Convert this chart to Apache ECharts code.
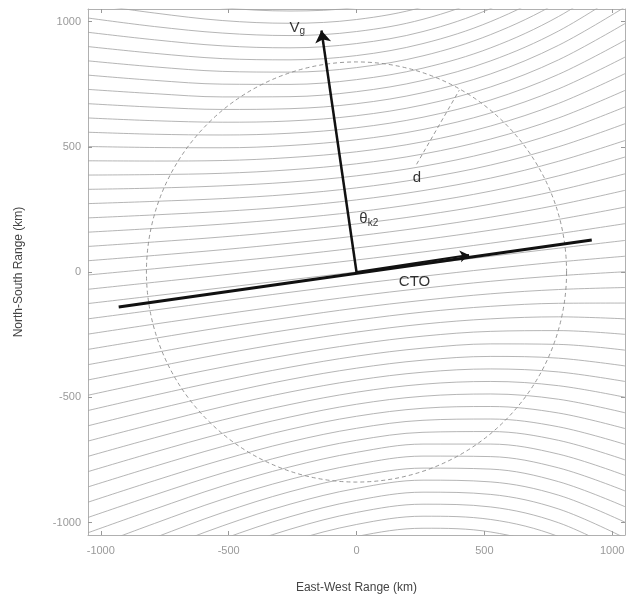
<!DOCTYPE html>
<html><head><meta charset="utf-8">
<script src="https://cdn.jsdelivr.net/npm/echarts@6/dist/echarts.min.js"></script>
<style>html,body{margin:0;padding:0;background:#fff}#c{width:630px;height:602px}</style>
</head><body><div id="c"></div>
<script>
// Contour lines: y (km) of each contour at the sample x positions below
const contourXs = [-1050, -790, -525, -260, 0, 260, 525, 790, 1050];
const colM1050 = [-1469,-1408,-1347,-1286,-1225,-1164,-1103,-1041,-980,-919,-858,-797,-736,-675,-614,-553,-492,-431,-370,-309,-248,-187,-126,-69,-12,45,102,159,216,273,330,387,444,501,558,615,672,729,786,843,900,957,1014,1071,1128];
const colM790 = [-1345,-1288,-1231,-1174,-1117,-1061,-1004,-947,-890,-833,-776,-719,-662,-606,-549,-492,-435,-379,-322,-265,-208,-152,-95,-41,13,66,120,174,228,282,335,389,443,497,550,604,658,712,765,819,873,927,980,1034,1088];
const colM525 = [-1225,-1172,-1120,-1067,-1014,-961,-908,-855,-803,-750,-697,-644,-591,-538,-486,-433,-380,-327,-274,-221,-169,-116,-63,-12,39,89,140,191,242,293,344,394,445,496,547,598,649,699,750,801,852,903,954,1004,1055];
const colM260 = [-1126,-1076,-1027,-977,-927,-877,-828,-778,-728,-678,-628,-579,-529,-479,-429,-380,-330,-280,-230,-181,-131,-81,-31,18,66,115,164,213,261,310,359,408,457,505,554,603,652,700,749,798,847,895,944,993,1042];
const col0 = [-1056,-1008,-960,-912,-864,-816,-768,-720,-672,-624,-576,-528,-480,-432,-384,-336,-288,-240,-192,-144,-96,-48,0,48,96,144,192,240,288,336,384,432,480,528,576,624,672,720,768,816,864,912,960,1008,1056];
const colP260 = [-1023,-975,-927,-879,-831,-783,-735,-687,-640,-592,-544,-496,-448,-400,-352,-304,-256,-208,-160,-113,-65,-17,31,80,129,178,227,276,325,374,422,471,520,569,618,667,716,765,814,863,912,960,1009,1058,1107];
const colP525 = [-1038,-988,-938,-888,-838,-787,-737,-687,-637,-587,-537,-487,-437,-387,-337,-287,-237,-187,-137,-87,-37,13,63,115,167,219,271,323,375,427,479,531,583,635,687,739,791,843,895,948,1000,1052,1104,1156,1208];
const colP790 = [-1111,-1056,-1001,-946,-891,-837,-782,-727,-672,-618,-563,-508,-454,-399,-344,-289,-234,-179,-125,-70,-15,40,95,153,210,268,326,384,442,500,558,615,673,731,789,847,905,962,1020,1078,1136,1194,1252,1309,1367];
const colP1050 = [-1250,-1187,-1125,-1062,-999,-937,-874,-812,-750,-688,-625,-562,-500,-437,-375,-312,-249,-187,-124,-62,1,63,126,193,259,326,392,459,525,592,659,725,792,858,925,992,1058,1125,1191,1258,1324,1391,1458,1524,1591];

const tickValues = [-1000, -500, 0, 500, 1000];
const vgVector = [[0, 0], [-137, 964]];
const ctoLine = [[-930, -140], [920, 128]];
const ctoArrow = [[0, 0], [440, 68]];
const circleRadius = 830;
const dLine = [[235, 430], [402, 726]];
const textLabels = [
  { text: '{a|V}{b|g}', pos: [-232, 976] },
  { text: '{a|θ}{b|k2}', pos: [48, 212] },
  { text: '{a|d}', pos: [236, 375] },
  { text: '{a|CTO}', pos: [227, -38] }
];

const cols = [colM1050, colM790, colM525, colM260, col0, colP260, colP525, colP790, colP1050];
const contourSeries = col0.map((_, i) => ({
  type: 'line',
  data: contourXs.map((x, j) => [x, cols[j][i]]),
  smooth: 0.35, symbol: 'none', silent: true, clip: true, z: 1,
  lineStyle: { color: '#a2a2a2', width: 0.8 }
}));

const axisCommon = {
  type: 'value', min: -1050, max: 1050,
  axisLine: { show: true, onZero: false, lineStyle: { color: '#b0b0b0', width: 1 } },
  axisTick: { show: true, inside: true, length: 4, customValues: tickValues, lineStyle: { color: '#999' } },
  splitLine: { show: false }
};
const fontFam = '"Liberation Sans", Arial, sans-serif';

const chart = echarts.init(document.getElementById('c'), null, { renderer: 'canvas' });
chart.setOption({
  animation: false,
  backgroundColor: '#fff',
  textStyle: { fontFamily: fontFam },
  grid: { left: 88, right: 5, top: 9, bottom: 67 },
  xAxis: [
    Object.assign({}, axisCommon, {
      position: 'bottom',
      axisLabel: { customValues: tickValues, formatter: v => String(v), color: '#9a9a9a', fontSize: 11, margin: 10, fontFamily: fontFam },
      name: 'East-West Range (km)', nameLocation: 'middle', nameGap: 47,
      nameTextStyle: { color: '#444', fontSize: 12, fontFamily: fontFam }
    }),
    Object.assign({}, axisCommon, { position: 'top', axisLabel: { show: false } })
  ],
  yAxis: [
    Object.assign({}, axisCommon, {
      position: 'left',
      axisLabel: { customValues: tickValues, formatter: v => String(v), color: '#9a9a9a', fontSize: 11, margin: 7, fontFamily: fontFam },
      name: 'North-South Range (km)', nameLocation: 'middle', nameGap: 63, nameRotate: 90,
      nameTextStyle: { color: '#444', fontSize: 12, fontFamily: fontFam }
    }),
    Object.assign({}, axisCommon, { position: 'right', axisLabel: { show: false } })
  ],
  series: contourSeries.concat([
    {
      type: 'custom', silent: true, z: 3,
      renderItem: (params, api) => {
        const c = api.coord([api.value(0), api.value(1)]);
        const s = api.size([api.value(2), api.value(2)]);
        return { type: 'circle', shape: { cx: c[0], cy: c[1], r: (s[0] + s[1]) / 2 },
          style: { fill: 'none', stroke: '#8c8c8c', lineWidth: 0.9, lineDash: [4, 3] } };
      },
      data: [[0, 0, circleRadius]]
    },
    {
      type: 'line', data: dLine, symbol: 'none', silent: true, z: 3,
      lineStyle: { color: '#8c8c8c', width: 0.9, type: [4, 3] }
    },
    {
      type: 'line', data: ctoLine, symbol: 'none', silent: true, z: 5,
      lineStyle: { color: '#111', width: 3 }
    },
    {
      type: 'lines', coordinateSystem: 'cartesian2d', silent: true, z: 6,
      symbol: ['none', 'arrow'], symbolSize: 9,
      lineStyle: { color: '#111', width: 2.2, opacity: 1 },
      data: [{ coords: ctoArrow }]
    },
    {
      type: 'lines', coordinateSystem: 'cartesian2d', silent: true, z: 6,
      symbol: ['none', 'arrow'], symbolSize: 12,
      lineStyle: { color: '#111', width: 2.5, opacity: 1 },
      data: [{ coords: vgVector }]
    },
    {
      type: 'scatter', symbolSize: 0, silent: true, z: 7,
      data: textLabels.map(t => ({ value: t.pos, labelText: t.text })),
      label: {
        show: true, position: 'inside', color: '#000',
        formatter: p => p.data.labelText,
        rich: {
          a: { fontSize: 15, color: '#000', fontFamily: fontFam },
          b: { fontSize: 10, color: '#000', fontFamily: fontFam, padding: [8, 0, 0, 0] }
        }
      }
    }
  ])
});
</script></body></html>
